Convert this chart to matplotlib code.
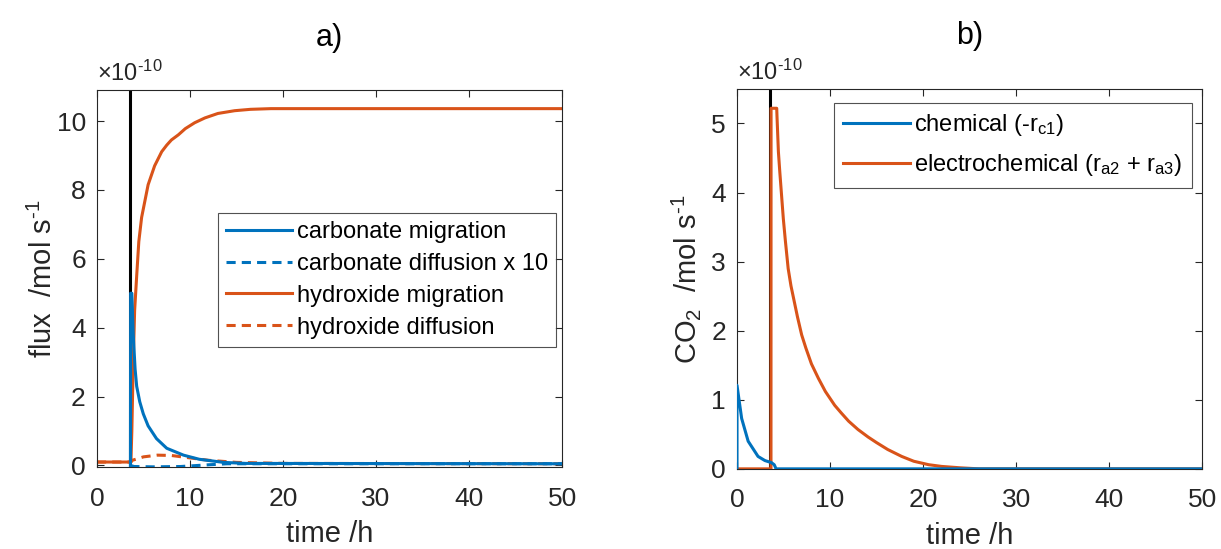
import matplotlib
matplotlib.use("Agg")
import matplotlib.pyplot as plt

plt.rcParams['font.family'] = ['Liberation Sans', 'DejaVu Sans']
plt.rcParams['mathtext.fontset'] = 'custom'
plt.rcParams['mathtext.rm'] = 'Liberation Sans'
plt.rcParams['mathtext.it'] = 'Liberation Sans'

BLUE = '#0072BD'
ORANGE = '#D95319'
AXC = '#262626'

# values in units of 1e-10 mol/s
switch_time = 3.6

oh_mig_t = [0, 3.65, 3.75, 3.9, 4.05, 4.27, 4.5, 4.8, 5.5, 6.2, 6.96, 7.5, 8.0,
            8.75, 9.5, 10.5, 11.6, 13.0, 14.8, 16.5, 18.7, 50]
oh_mig_v = [0.1, 0.1, 1.0, 3.0, 4.5, 5.5, 6.5, 7.2, 8.15, 8.7, 9.11, 9.3, 9.45,
            9.6, 9.78, 9.95, 10.09, 10.22, 10.3, 10.34, 10.36, 10.36]

co3_mig_t = [3.6, 3.62, 3.75, 3.9, 4.1, 4.27, 4.6, 4.98, 5.5, 6.4, 7.5, 9.3,
             11.0, 13.6, 16.0, 50]
co3_mig_v = [0.0, 5.0, 5.0, 3.8, 2.8, 2.3, 1.85, 1.5, 1.15, 0.78, 0.5, 0.3,
             0.18, 0.09, 0.06, 0.05]

co3_dif_t = [3.6, 4.0, 6.0, 9.0, 12.0, 14.0, 50]
co3_dif_v = [0.0, -0.03, -0.04, -0.03, 0.02, 0.05, 0.05]

oh_dif_t = [0, 3.65, 3.8, 5.0, 6.5, 8.0, 10.0, 12.0, 15.0, 20.0, 50]
oh_dif_v = [0.1, 0.1, 0.15, 0.25, 0.3, 0.29, 0.22, 0.15, 0.09, 0.06, 0.05]

chem_t = [0, 0, 0.5, 1.2, 2.26, 3.0, 3.7, 4.0, 4.2, 50]
chem_v = [0, 1.21, 0.73, 0.4, 0.18, 0.12, 0.09, 0.06, 0.0, 0.0]

elec_t = [0, 3.65, 3.66, 4.27, 4.3, 4.45, 4.6, 4.98, 5.2, 5.5, 5.8, 6.5, 6.95,
          7.4, 8.0, 8.75, 9.5, 10.5, 11.2, 12.0, 13.0, 14.1, 15.0, 16.2, 17.7,
          19.0, 20.6, 22.0, 24.0, 26.0, 50]
elec_v = [0, 0, 5.22, 5.22, 5.1, 4.59, 4.3, 3.62, 3.3, 2.9, 2.65, 2.2, 1.94,
          1.75, 1.52, 1.31, 1.12, 0.92, 0.81, 0.69, 0.57, 0.46, 0.38, 0.28, 0.18,
          0.11, 0.06, 0.035, 0.015, 0.0, 0.0]

x_ticks = [0, 10, 20, 30, 40, 50]
left_y_ticks = [0, 2, 4, 6, 8, 10]
right_y_ticks = [0, 1, 2, 3, 4, 5]

FS = 19
LW = 2.2


def style_axes(ax):
    for s in ax.spines.values():
        s.set_color(AXC)
        s.set_linewidth(0.8)
    ax.tick_params(direction='in', length=5, width=0.8, top=True, right=True,
                   labelsize=FS, colors=AXC, labelcolor='#262626')
    ax.tick_params(axis='x', pad=14)
    ax.tick_params(axis='y', pad=8)
    ax.set_xlim(0, 50)
    ax.set_xticks(x_ticks)
    ax.set_xlabel('time /h', fontsize=21, color='#262626', labelpad=7)


fig = plt.figure(figsize=(12.21, 5.49), dpi=100)
ax1 = fig.add_axes([0.0794, 0.149, 0.381, 0.687])
ax2 = fig.add_axes([0.6036, 0.146, 0.381, 0.692])

# a)
ax1.axvline(switch_time, color='black', lw=LW, zorder=1)
ax1.plot(co3_mig_t, co3_mig_v, color=BLUE, lw=LW, label='carbonate migration', zorder=3)
ax1.plot(co3_dif_t, co3_dif_v, color=BLUE, lw=LW, ls=(0, (3, 2)),
         label='carbonate diffusion x 10', zorder=3)
ax1.plot(oh_mig_t, oh_mig_v, color=ORANGE, lw=LW, label='hydroxide migration', zorder=2)
ax1.plot(oh_dif_t, oh_dif_v, color=ORANGE, lw=LW, ls=(0, (3, 2)),
         label='hydroxide diffusion', zorder=2)
style_axes(ax1)
ax1.set_ylim(-0.05, 10.9)
ax1.set_yticks(left_y_ticks)
ax1.set_ylabel(r'flux  /mol s$^{\text{-1}}$', fontsize=21, color='#262626', labelpad=-1)
ax1.set_title('a)', fontsize=22, pad=32)
ax1.text(0, 1.01, r'$\times$10$^{\text{-10}}$', transform=ax1.transAxes, fontsize=17,
         color='#262626', ha='left', va='bottom')
leg1 = ax1.legend(loc='upper left', bbox_to_anchor=(0.26, 0.675), fontsize=17,
                  frameon=True, fancybox=False, edgecolor=AXC, handlelength=2.8,
                  handletextpad=0.2, borderpad=0.35, labelspacing=0.42, borderaxespad=0)
leg1.get_frame().set_linewidth(0.8)

# b)
ax2.axvline(switch_time, color='black', lw=LW, zorder=1)
ax2.plot(chem_t, chem_v, color=BLUE, lw=LW, label='chemical (-r$_{c1}$)', zorder=3)
ax2.plot(elec_t, elec_v, color=ORANGE, lw=LW,
         label='electrochemical (r$_{a2}$ + r$_{a3}$)', zorder=2)
style_axes(ax2)
ax2.set_ylim(0, 5.5)
ax2.set_yticks(right_y_ticks)
ax2.set_ylabel(r'CO$_2$  /mol s$^{\text{-1}}$', fontsize=21, color='#262626', labelpad=6)
ax2.set_title('b)', fontsize=22, pad=32)
ax2.text(0, 1.01, r'$\times$10$^{\text{-10}}$', transform=ax2.transAxes, fontsize=17,
         color='#262626', ha='left', va='bottom')
leg2 = ax2.legend(loc='upper left', bbox_to_anchor=(0.2086, 0.964), fontsize=17,
                  frameon=True, fancybox=False, edgecolor=AXC, handlelength=2.8,
                  handletextpad=0.2, borderpad=0.4, labelspacing=0.6, borderaxespad=0)
leg2.get_frame().set_linewidth(0.8)

fig.savefig('out.png', dpi=100)
